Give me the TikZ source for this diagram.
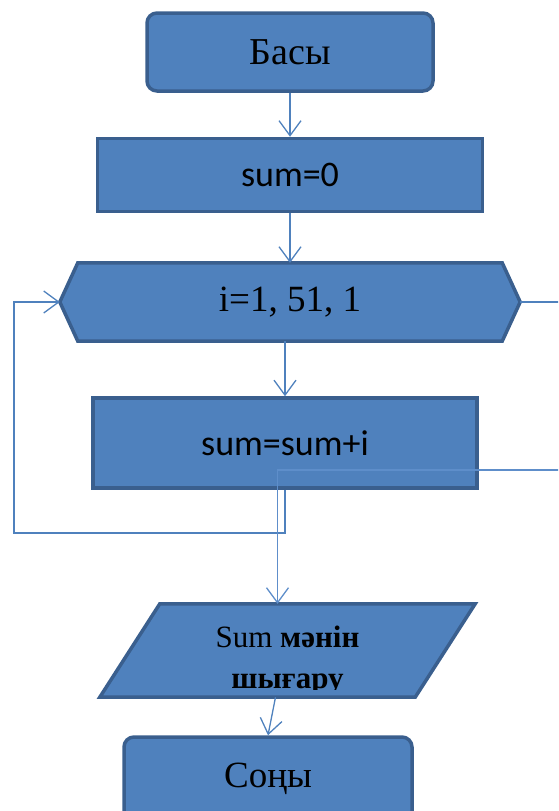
\documentclass[tikz,border=0pt]{standalone}
\usepackage{fontspec}
\setmainfont{Liberation Serif}
\newfontfamily\calibri{Carlito}
\usetikzlibrary{arrows.meta}

\definecolor{boxfill}{HTML}{4F81BD}
\definecolor{boxline}{HTML}{3A5F8E}
\definecolor{exitline}{HTML}{5E8ECA}
\tikzset{
  box/.style={fill=boxfill, draw=boxline, line width=3.5pt},
  startstop/.style={box, rounded corners=10pt},
  conn/.style={draw=boxfill, line width=1.3pt, -{Straight Barb[length=15pt,width=22pt]}},
  line/.style={draw=boxfill, line width=1.3pt}
}

\begin{document}
\begin{tikzpicture}[x=1pt,y=-1pt]
\clip (0,0) rectangle (558,811);
\useasboundingbox (0,0) rectangle (558,811);

\node[startstop, minimum width=286pt, minimum height=78pt, font=\fontsize{38}{44}\selectfont] (start) at (290,52) {Басы};
\node[box, minimum width=385pt, minimum height=73pt, font=\calibri\fontsize{36}{42}\selectfont] (init) at (290,175) {sum=0};

\node[minimum width=460pt, minimum height=78pt, inner sep=0pt] (loop) at (290,302) {};
\draw[box] (loop.west) -- ([xshift=18pt]loop.north west) -- ([xshift=-18pt]loop.north east)
  -- (loop.east) -- ([xshift=-18pt]loop.south east) -- ([xshift=18pt]loop.south west) -- cycle;
\node[font=\fontsize{37}{42}\selectfont] at (loop.center) {i=1, 51, 1};

\node[box, minimum width=384pt, minimum height=90pt, font=\calibri\fontsize{36}{42}\selectfont] (body) at (285,443) {sum=sum+i};

\node[minimum width=375pt, minimum height=93pt, inner sep=0pt] (out) at (287.5,650.5) {};
\draw[box] (out.south west) -- ([xshift=60pt]out.north west) -- (out.north east)
  -- ([xshift=-60pt]out.south east) -- cycle;
\begin{scope}
\clip ([yshift=8pt]out.south west) rectangle (out.north east);
\node[align=center, font=\fontsize{31}{41}\selectfont] at ([yshift=-10pt]out.center) {Sum \textbf{мәнін}\\\textbf{шығару}};
\end{scope}

\node[startstop, minimum width=288pt, minimum height=84pt, font=\fontsize{37}{42}\selectfont] (end) at (268,779) {Соңы};

\coordinate (back) at (14,533);
\coordinate (exitA) at (560,302);
\coordinate (exitB) at (560,470);

\draw[conn] (start.south) -- (init.north);
\draw[conn] (init.south) -- (loop.north);
\draw[conn] ([xshift=-5pt]loop.south) -- (body.north);
\draw[conn] (body.south) |- (back) |- (loop.west);
\draw[line] (loop.east) -- (exitA);
\draw[conn, draw=exitline] (exitB) -| ([xshift=-10pt]out.north);
\draw[conn] ([xshift=-12pt]out.south) -- (end.north);
\end{tikzpicture}
\end{document}
